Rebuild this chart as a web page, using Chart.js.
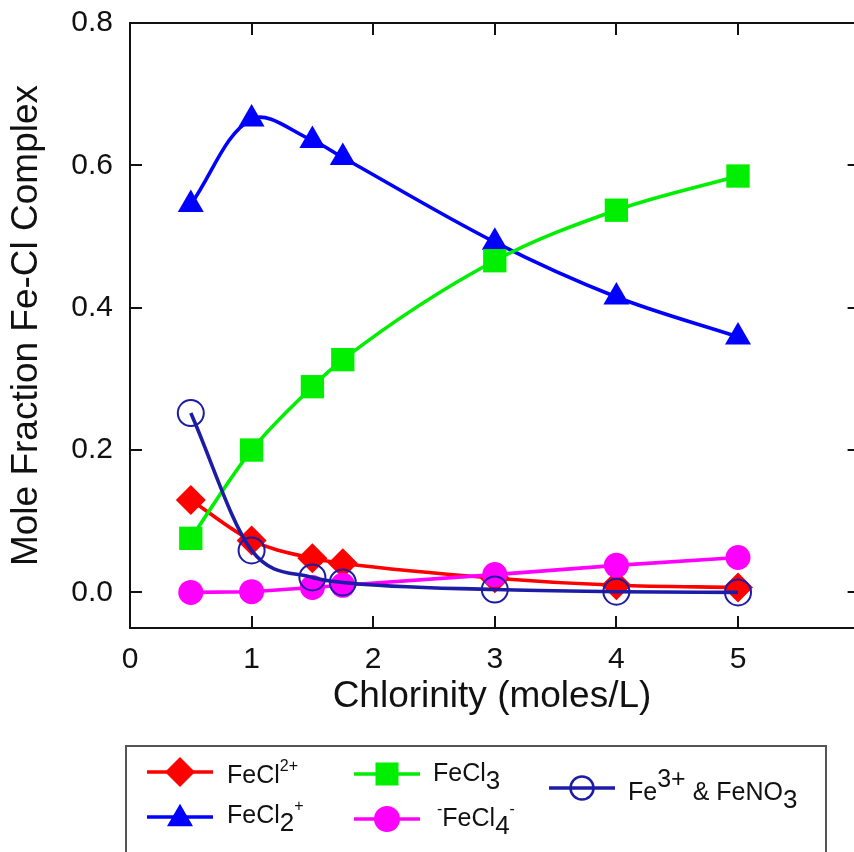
<!DOCTYPE html>
<html>
<head>
<meta charset="utf-8">
<script src="https://cdn.jsdelivr.net/npm/chart.js@4/dist/chart.umd.min.js"></script>
<style>
html,body{margin:0;padding:0;background:#fff;overflow:hidden;}
#wrap{position:relative;width:854px;height:852px;overflow:hidden;}
#c{position:absolute;left:0;top:0;}
#legendBox{position:absolute;left:125px;top:745px;width:702px;height:140px;border:2px solid #555;box-sizing:border-box;}
.lg-sym{position:absolute;}
.lg-txt{position:absolute;font-family:"Liberation Sans",Arial,Helvetica,sans-serif;font-size:25px;line-height:25px;color:#111;white-space:nowrap;}
.sp{font-size:16px;position:relative;top:-12px;}
.sb{font-size:26px;position:relative;top:8px;}
.bp{font-size:25px;position:relative;top:-13px;}
</style>
</head>
<body>
<div id="wrap">
<canvas id="c" width="854" height="852"></canvas>
<div id="legendBox"></div>
</div>
<script>
// ---- data ----
const chlorinity = [0.5, 1, 1.5, 1.75, 3, 4, 5];
const feCl2plus  = [0.130, 0.073, 0.048, 0.041, 0.020, 0.010, 0.007];   // FeCl2+
const feCl2p     = [0.545, 0.665, 0.635, 0.611, 0.492, 0.415, 0.359];   // FeCl2 +
const feCl3      = [0.076, 0.200, 0.289, 0.327, 0.466, 0.537, 0.585];   // FeCl3
const feCl4      = [0.000, 0.001, 0.007, 0.010, 0.025, 0.038, 0.049];   // -FeCl4-
const fe3NO3     = [0.252, 0.059, 0.021, 0.014, 0.004, 0.001, 0.000];   // Fe3+ & FeNO3
const xTickVals  = [0, 1, 2, 3, 4, 5];
const yTickVals  = [0, 0.2, 0.4, 0.6, 0.8];
const xFrameEnd  = 6;      // the plot frame closes at x = 6 (just past the picture's right edge)
const seriesLabels = ['FeCl2+', 'FeCl2 +', 'FeCl3', '-FeCl4-', 'Fe3+ & FeNO3'];
const legendHtml = [
  'FeCl<span class="sp">2+</span>',
  'FeCl<span class="sb">2</span><span class="sp">+</span>',
  'FeCl<span class="sb">3</span>',
  '<span class="sp">-</span>FeCl<span class="sb">4</span><span class="sp">-</span>',
  'Fe<span class="bp">3+</span> &amp; FeNO<span class="sb">3</span>'
];
const xTitle = 'Chlorinity (moles/L)';
const yTitle = 'Mole Fraction Fe-Cl Complex';

const FONT = '"Liberation Sans", Arial, Helvetica, sans-serif';
const colors = ['#ff0000', '#0000ff', '#00ee00', '#ff00ff', '#1c1ca6'];
const pts = (ys) => chlorinity.map((x, i) => ({x: x, y: ys[i]}));

const datasets = [
  {label: seriesLabels[0], data: pts(feCl2plus), borderColor: colors[0], backgroundColor: colors[0],
   pointStyle: 'rectRot', pointRadius: 15, cubicInterpolationMode: 'monotone', order: 4},
  {label: seriesLabels[1], data: pts(feCl2p), borderColor: colors[1], backgroundColor: colors[1],
   pointStyle: 'triangle', pointRadius: 15, tension: 0.35, order: 3},
  {label: seriesLabels[2], data: pts(feCl3), borderColor: colors[2], backgroundColor: colors[2],
   pointStyle: 'rect', pointRadius: 16.5, cubicInterpolationMode: 'monotone', order: 2},
  {label: seriesLabels[3], data: pts(feCl4), borderColor: colors[3], backgroundColor: colors[3],
   pointStyle: 'circle', pointRadius: 12.5, tension: 0, order: 1},
  {label: seriesLabels[4], data: pts(fe3NO3), borderColor: colors[4], backgroundColor: 'rgba(0,0,0,0)',
   pointStyle: 'circle', pointRadius: 13, pointBorderWidth: 2, cubicInterpolationMode: 'monotone', order: 0}
];
datasets.forEach(d => { d.borderWidth = 3.6; if (d.pointBorderWidth === undefined) d.pointBorderWidth = 0; d.pointHoverRadius = d.pointRadius; });

const framePlugin = {
  id: 'frame',
  afterDatasetsDraw(chart) {
    const {ctx, chartArea: a, scales: {x, y}} = chart;
    const R = x.getPixelForValue(xFrameEnd);
    ctx.save();
    ctx.strokeStyle = '#111';
    ctx.lineWidth = 2;
    ctx.strokeRect(a.left, a.top, R - a.left, a.bottom - a.top);
    ctx.beginPath();
    const TL = 12;
    xTickVals.forEach(v => {
      const px = Math.round(x.getPixelForValue(v));
      ctx.moveTo(px, a.bottom); ctx.lineTo(px, a.bottom - TL);
      ctx.moveTo(px, a.top); ctx.lineTo(px, a.top + TL);
    });
    yTickVals.forEach(v => {
      const py = Math.round(y.getPixelForValue(v));
      ctx.moveTo(a.left, py); ctx.lineTo(a.left + TL, py);
      ctx.moveTo(R, py); ctx.lineTo(R - TL, py);
    });
    ctx.stroke();
    ctx.restore();
  }
};

new Chart(document.getElementById('c'), {
  type: 'line',
  data: {datasets: datasets},
  options: {
    responsive: false,
    animation: false,
    events: [],
    layout: {autoPadding: false, padding: {left: 5, top: 23, right: 0, bottom: 133}},
    plugins: {legend: {display: false}, tooltip: {enabled: false}},
    scales: {
      x: {
        type: 'linear', min: 0, max: 5.954,
        afterBuildTicks: s => { s.ticks = xTickVals.map(v => ({value: v})); },
        afterFit: s => { s.height = 91; s.paddingLeft = 0; s.paddingRight = 0; },
        grid: {display: false, drawTicks: false},
        border: {display: false},
        ticks: {color: '#111', padding: 14, font: {family: FONT, size: 30}, callback: v => String(v)},
        title: {display: true, text: xTitle, color: '#111', font: {family: FONT, size: 37}, padding: 0}
      },
      y: {
        type: 'linear', min: -0.05, max: 0.8,
        afterBuildTicks: s => { s.ticks = yTickVals.map(v => ({value: v})); },
        afterFit: s => { s.width = 125; s.paddingTop = 0; s.paddingBottom = 0; },
        grid: {display: false, drawTicks: false},
        border: {display: false},
        ticks: {color: '#111', padding: 17, font: {family: FONT, size: 30}, callback: v => Number(v).toFixed(1)},
        title: {display: true, text: yTitle, color: '#111', font: {family: FONT, size: 37}, padding: 0}
      }
    }
  },
  plugins: [framePlugin]
});

// ---- HTML legend (text with real sub/superscripts) ----
const legendPos = [
  {sx: 180, sy: 772, tx: 227, base: 783},
  {sx: 180, sy: 817, tx: 227, base: 823},
  {sx: 387, sy: 774, tx: 433, base: 781},
  {sx: 387, sy: 819, tx: 437, base: 826},
  {sx: 582, sy: 788, tx: 628, base: 800}
];
const wrap = document.getElementById('wrap');
function symbolSvg(ds) {
  const W = 66, H = 40, cx = 33, cy = 20;
  const c = ds.borderColor;
  let shape = '';
  if (ds.pointStyle === 'rectRot') {
    const r = 15;
    shape = `<polygon points="${cx},${cy - r} ${cx + r},${cy} ${cx},${cy + r} ${cx - r},${cy}" fill="${c}"/>`;
  } else if (ds.pointStyle === 'triangle') {
    const r = 15, h = r * 1.5, w = r * Math.sqrt(3);
    shape = `<polygon points="${cx},${cy - h / 2 - 2} ${cx + w / 2},${cy + h / 2 - 2} ${cx - w / 2},${cy + h / 2 - 2}" fill="${c}"/>`;
  } else if (ds.pointStyle === 'rect') {
    const s = 11.5;
    shape = `<rect x="${cx - s}" y="${cy - s}" width="${2 * s}" height="${2 * s}" fill="${c}"/>`;
  } else if (ds.backgroundColor === 'rgba(0,0,0,0)') {
    shape = `<circle cx="${cx}" cy="${cy}" r="11.5" fill="none" stroke="${c}" stroke-width="2.5"/>`;
  } else {
    shape = `<circle cx="${cx}" cy="${cy}" r="13" fill="${c}"/>`;
  }
  return `<svg width="${W}" height="${H}" xmlns="http://www.w3.org/2000/svg"><line x1="0" y1="${cy}" x2="${W}" y2="${cy}" stroke="${c}" stroke-width="3.6"/>${shape}</svg>`;
}
datasets.forEach((ds, i) => {
  const p = legendPos[i];
  const s = document.createElement('div');
  s.className = 'lg-sym';
  s.style.left = (p.sx - 33) + 'px';
  s.style.top = (p.sy - 20) + 'px';
  s.innerHTML = symbolSvg(ds);
  wrap.appendChild(s);
  const t = document.createElement('div');
  t.className = 'lg-txt';
  t.style.left = p.tx + 'px';
  t.style.top = (p.base - 21) + 'px';
  t.innerHTML = legendHtml[i];
  wrap.appendChild(t);
});
</script>
</body>
</html>
